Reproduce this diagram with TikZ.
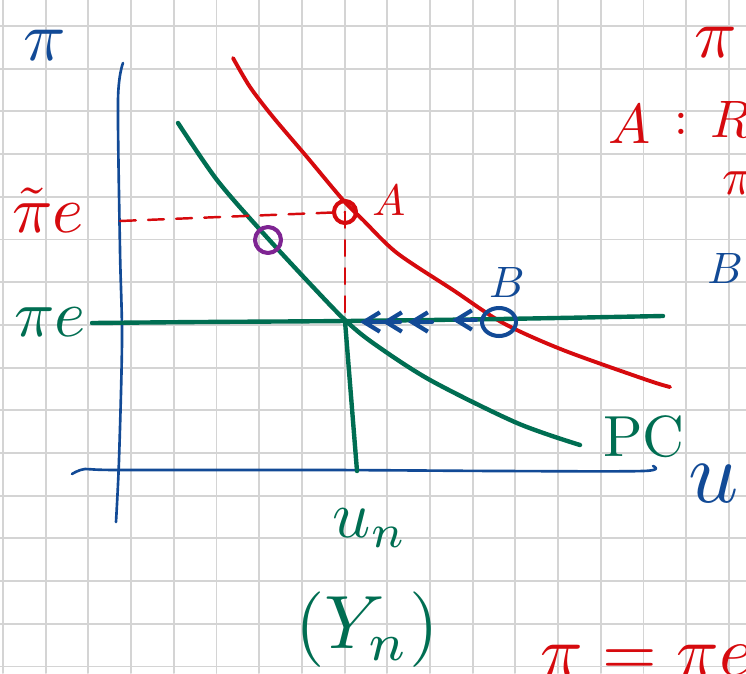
\documentclass[tikz,border=0pt]{standalone}
\usepackage{tikz}
\usepackage{graphicx}
\usepackage{amsmath}
\usetikzlibrary{arrows.meta}

\begin{document}
\begin{tikzpicture}[x=0.02cm,y=-0.02cm,line cap=round,line join=round]
  % ----- styles & colors -----
  \definecolor{gridgray}{RGB}{212,212,212}  % paper grid
  \definecolor{inkblue}{RGB}{18,74,150}     % axes, B
  \definecolor{inkred}{RGB}{214,10,14}      % shifted curve, A
  \definecolor{inkgreen}{RGB}{0,110,82}     % PC
  \definecolor{inkpurple}{RGB}{126,36,146}
  \tikzset{
    gridline/.style={draw=gridgray,line width=1.1pt},
    axis/.style={draw=inkblue,line width=1.5pt},
    curve_red/.style={draw=inkred,line width=2.2pt},
    curve_green/.style={draw=inkgreen,line width=2.5pt},
    dashline/.style={draw=inkred,line width=1.4pt,dash pattern=on 9pt off 7pt},
    ring/.style={line width=2.3pt},
    chev/.style={draw=inkblue,line width=2.4pt,-{Straight Barb[length=9pt,width=11pt]}},
    lbl/.style={inner sep=0pt}
  }

  % ----- paper -----
  \useasboundingbox (0,0) rectangle (746,673);
  \clip (0,0) rectangle (746,673);
  \fill[white] (0,0) rectangle (746,673);
  \foreach \k in {0,...,17}{
    \draw[gridline] ({3+42.7*\k},0) -- ({3+42.7*\k},673);
  }
  \foreach \k in {0,...,15}{
    \draw[gridline] (0,{26+42.7*\k}) -- (746,{26+42.7*\k});
  }

  % ----- geometry -----
  \coordinate (E) at (345,321);   % PC meets pi e
  \coordinate (A) at (345,212);
  \coordinate (B) at (499,322);
  \coordinate (P) at (268,240);
  \coordinate (Un) at (357,471);

  % ----- axes -----
  \draw[axis] plot[smooth] coordinates {(123,63) (118,100) (120,250) (122,340) (119,460) (116,522)};
  \draw[axis] plot[smooth] coordinates {(72,474) (85,469) (117,470) (330,470) (500,471) (643,471) (653,466)};

  % ----- curves -----
  \draw[curve_red] plot[smooth] coordinates {(233,58) (250,87) (273,117) (307,157) (343,200) (363,220) (397,253) (453,290) (503,323) (563,350) (647,380) (670,387)};
  \draw[curve_green] plot[smooth] coordinates {(178,123) (217,180) (263,233) (313,287) (345,320) (373,343) (430,380) (517,423) (580,445)};
  \draw[curve_green] plot[smooth] coordinates {(92,323) (200,322) (345,321) (500,319) (663,316)};
  \draw[curve_green] (E) -- (Un);

  % dashed guides to A
  \draw[dashline] (120,221) -- (A);
  \draw[dashline] (A) -- (E);

  % ----- points -----
  \draw[ring,inkred] (A) circle (11);
  \draw[ring,inkpurple] (P) circle (13);
  \draw[ring,inkblue] (B) ellipse (17 and 14);

  % ----- adjustment from B back to pi e -----
  \draw[chev,-{Straight Barb[length=9pt,width=11pt] Straight Barb[length=9pt,width=11pt]}] (400,322) -- (360,322);
  \draw[chev] (432,322) -- (408,322);
  \draw[chev] (476,320) -- (452,320);

  % ----- labels -----
  \node[lbl,text=inkblue] (lblPi) at (45,45) {\scalebox{4}{$\pi$}};
  \node[lbl,text=inkred] (lblPiTilde) at (48,210) {\scalebox{3.8}{$\tilde{\pi}e$}};
  \node[lbl,text=inkgreen] (lblPiE) at (50,322) {\scalebox{3.8}{$\pi e$}};
  \node[lbl,text=inkred,anchor=west] (lblA) at (372,200) {\scalebox{2.5}{$A$}};
  \node[lbl,text=inkblue] (lblB) at (507,282) {\scalebox{2.5}{$B$}};
  \node[lbl,text=inkgreen,anchor=west] (lblPC) at (603,437) {\scalebox{3.3}{PC}};
  \node[lbl,text=inkblue,anchor=west] (lblU) at (688,484) {\scalebox{5}{$u$}};
  \node[lbl,text=inkgreen] (lblUn) at (370,528) {\scalebox{3.8}{$u_n$}};
  \node[lbl,text=inkgreen] (lblYn) at (367,630) {\scalebox{4.3}{$(Y_n)$}};

  % notes at the right margin
  \node[lbl,text=inkred,anchor=west] (notePi) at (694,42) {\scalebox{4}{$\pi$}};
  \node[lbl,text=inkred,anchor=west] (noteA) at (608,124) {\scalebox{3.2}{$A$}};
  \node[lbl,text=inkred,anchor=west] (noteColon) at (674,124) {\scalebox{2.8}{:}};
  \node[lbl,text=inkred,anchor=west] (noteR) at (710,119) {\scalebox{3}{$R$}};
  \node[lbl,text=inkred,anchor=west] (notePiTwo) at (722,183) {\scalebox{3}{$\pi$}};
  \node[lbl,text=inkblue,anchor=west] (noteB) at (707,268) {\scalebox{2.5}{$B$}};
  \node[lbl,text=inkred,anchor=west] (noteEq) at (540,660) {\scalebox{4}{$\pi=\pi e$}};
\end{tikzpicture}
\end{document}
